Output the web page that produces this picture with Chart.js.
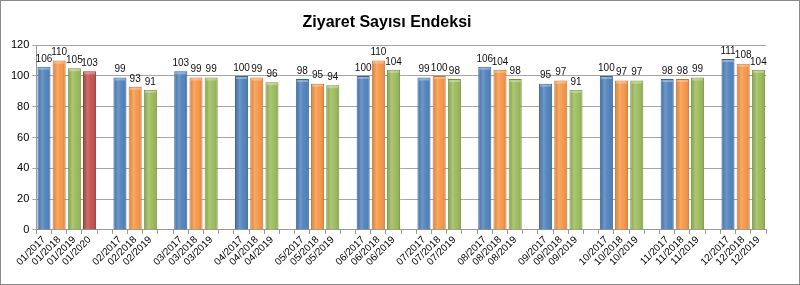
<!DOCTYPE html>
<html>
<head>
<meta charset="utf-8">
<script src="https://cdn.jsdelivr.net/npm/chart.js@4"></script>
<style>
  html, body { margin: 0; padding: 0; background: #fff; }
  #wrap { width: 800px; height: 285px; box-sizing: border-box; border: 1px solid #8a8a8a; position: relative; }
</style>
</head>
<body>
<div id="wrap"><canvas id="indexChart"></canvas></div>
<script>
// Ziyaret Sayısı Endeksi - aylık, yıllara göre
const months = ['01', '02', '03', '04', '05', '06', '07', '08', '09', '10', '11', '12'];
const years = ['2017', '2018', '2019', '2020'];
const v2017 = [106, 99, 103, 100, 98, 100, 99, 106, 95, 100, 98, 111];
const v2018 = [110, 93, 99, 99, 95, 110, 100, 104, 97, 97, 98, 108];
const v2019 = [105, 91, 99, 96, 94, 104, 98, 98, 91, 97, 99, 104];
const v2020 = [103];
const yTicks = [0, 20, 40, 60, 80, 100, 120];

const yearColors = { '2017': '#4F81BD', '2018': '#F79646', '2019': '#9BBB59', '2020': '#C0504D' };
const yearBorders = { '2017': '#3A6596', '2018': '#C8752F', '2019': '#76913F', '2020': '#943B38' };
const seriesByYear = { '2017': v2017, '2018': v2018, '2019': v2019, '2020': v2020 };

// one category per bar, with an empty category between months
const labels = [];
const values = [];
const colors = [];
const borders = [];
months.forEach((m, i) => {
    if (i > 0) { labels.push(''); values.push(null); colors.push('#fff'); borders.push('#fff'); }
    years.forEach(y => {
        const v = seriesByYear[y][i];
        if (v === undefined) return;
        labels.push(m + '/' + y);
        values.push(v);
        colors.push(yearColors[y]);
        borders.push(yearBorders[y]);
    });
});

// shading + value labels on top of bars
const barExtras = {
    id: 'barExtras',
    afterDatasetsDraw(chart) {
        const ctx = chart.ctx;
        const meta = chart.getDatasetMeta(0);
        ctx.save();
        meta.data.forEach((bar, i) => {
            const v = values[i];
            if (v === null) return;
            const left = bar.x - bar.width / 2;
            const g = ctx.createLinearGradient(left, 0, left + bar.width, 0);
            g.addColorStop(0, 'rgba(0,0,0,0.10)');
            g.addColorStop(0.35, 'rgba(255,255,255,0.18)');
            g.addColorStop(0.6, 'rgba(255,255,255,0.04)');
            g.addColorStop(1, 'rgba(0,0,0,0.15)');
            ctx.fillStyle = g;
            ctx.fillRect(left + 1, bar.y + 1, bar.width - 2, bar.base - bar.y - 1);
            ctx.fillStyle = 'rgba(255,255,255,0.3)';
            ctx.fillRect(left + 1, bar.y + 1, bar.width - 2, 2);
            ctx.fillStyle = '#111';
            ctx.font = '10px "Liberation Sans", Arial, sans-serif';
            ctx.textAlign = 'center';
            ctx.textBaseline = 'bottom';
            ctx.fillText(String(v), bar.x, bar.y - 3);
        });
        ctx.restore();
    }
};

const ctx = document.getElementById('indexChart').getContext('2d');
new Chart(ctx, {
    type: 'bar',
    data: {
        labels: labels,
        datasets: [{
            data: values,
            backgroundColor: colors,
            borderColor: borders,
            borderWidth: 1,
            barPercentage: 0.86,
            categoryPercentage: 1.0
        }]
    },
    options: {
        responsive: true,
        maintainAspectRatio: false,
        animation: false,
        layout: { padding: { left: 7, right: 33, top: 8, bottom: 16 } },
        plugins: {
            legend: { display: false },
            tooltip: { enabled: false },
            title: {
                display: true,
                text: 'Ziyaret Sayısı Endeksi',
                color: '#000',
                font: { family: '"Liberation Sans", Arial, sans-serif', size: 16, weight: 'bold' },
                padding: { top: 4, bottom: 13 }
            }
        },
        scales: {
            x: {
                grid: { display: true, drawOnChartArea: false, color: '#999', tickLength: 4, offset: true },
                border: { color: '#999' },
                ticks: {
                    autoSkip: false,
                    maxRotation: 45,
                    minRotation: 45,
                    padding: 0,
                    color: '#000',
                    font: { family: '"Liberation Sans", Arial, sans-serif', size: 10 }
                }
            },
            y: {
                min: 0,
                max: 120,
                afterBuildTicks(axis) { axis.ticks = yTicks.map(v => ({ value: v })); },
                grid: { color: '#A6A6A6', tickLength: 4 },
                border: { color: '#999' },
                ticks: {
                    padding: 3,
                    color: '#000',
                    font: { family: '"Liberation Sans", Arial, sans-serif', size: 11 }
                }
            }
        }
    },
    plugins: [barExtras]
});
</script>
</body>
</html>
